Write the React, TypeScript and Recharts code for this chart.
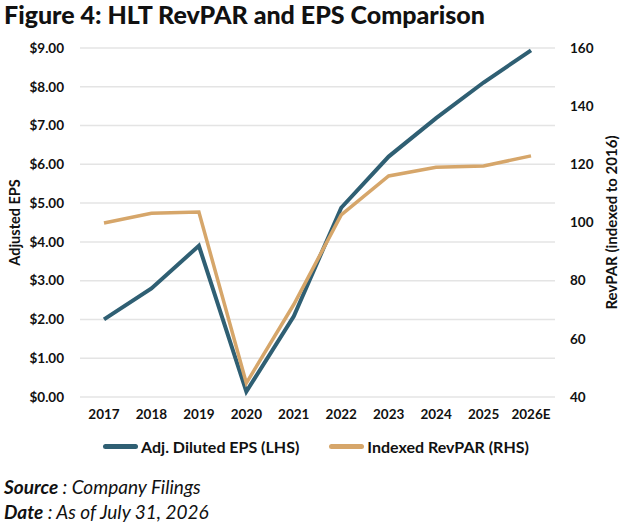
import React from 'react';
import { LineChart, Line, XAxis, YAxis, CartesianGrid } from 'recharts';

const years = ['2017', '2018', '2019', '2020', '2021', '2022', '2023', '2024', '2025', '2026E'];
const epsValues = [2.0, 2.8, 3.9, 0.14, 2.08, 4.88, 6.2, 7.19, 8.11, 8.94];
const revparValues = [99.8, 103.2, 103.6, 44.8, 71.8, 102.6, 116, 119, 119.4, 122.9];
const epsTicks = [0, 1, 2, 3, 4, 5, 6, 7, 8, 9];
const revparTicks = [40, 60, 80, 100, 120, 140, 160];

const EPS_COLOR = '#2f5f73';
const REV_COLOR = '#d6a66a';
const FONT = 'Lato, "Open Sans", sans-serif';

const data = years.map((year, i) => ({ year, eps: epsValues[i], revpar: revparValues[i] }));

const series = [
    { key: 'eps', name: 'Adj. Diluted EPS (LHS)', color: EPS_COLOR },
    { key: 'revpar', name: 'Indexed RevPAR (RHS)', color: REV_COLOR },
];

const tickStyle = { fill: '#111', fontSize: 13.5, fontWeight: 700, fontFamily: FONT };

export default function App() {
    return (
        <div style={{ position: 'absolute', left: 0, top: 0, width: 624, height: 526, background: '#fff', fontFamily: FONT }}>
            <div style={{ position: 'absolute', left: 4, top: -1, fontSize: 25, fontWeight: 900, color: '#111', whiteSpace: 'nowrap' }}>
                Figure 4: HLT RevPAR and EPS Comparison
            </div>
            <LineChart width={624} height={430} data={data} margin={{ top: 48, right: 0, left: 0, bottom: 3 }}>
                <CartesianGrid yAxisId="eps" vertical={false} stroke="#e4e4e4" strokeWidth={1.5} />
                <XAxis
                    dataKey="year"
                    axisLine={false}
                    tickLine={false}
                    tickSize={0}
                    tickMargin={12}
                    height={30}
                    padding={{ left: 24, right: 24 }}
                    tick={tickStyle}
                    interval={0}
                />
                <YAxis
                    yAxisId="eps"
                    width={80}
                    domain={[0, 9]}
                    ticks={epsTicks}
                    axisLine={false}
                    tickLine={false}
                    tickSize={0}
                    tickMargin={16}
                    tick={tickStyle}
                    tickFormatter={(v: number) => `$${v.toFixed(2)}`}
                    label={{ value: 'Adjusted EPS', angle: -90, position: 'insideLeft', offset: 15, style: { fill: '#111', fontSize: 14.5, fontWeight: 700, fontFamily: FONT, textAnchor: 'middle' } }}
                />
                <YAxis
                    yAxisId="rev"
                    orientation="right"
                    width={69}
                    domain={[40, 160]}
                    ticks={revparTicks}
                    axisLine={false}
                    tickLine={false}
                    tickSize={0}
                    tickMargin={15}
                    tick={tickStyle}
                    label={{ value: 'RevPAR (indexed to 2016)', angle: -90, position: 'insideRight', offset: 12, style: { fill: '#111', fontSize: 15, fontWeight: 700, fontFamily: FONT, textAnchor: 'middle' } }}
                />
                <Line yAxisId="eps" type="linear" dataKey="eps" stroke={EPS_COLOR} strokeWidth={4} dot={false} isAnimationActive={false} />
                <Line yAxisId="rev" type="linear" dataKey="revpar" stroke={REV_COLOR} strokeWidth={3.5} dot={false} isAnimationActive={false} />
            </LineChart>
            <div style={{ position: 'absolute', top: 437, left: 0, width: 624, display: 'flex', justifyContent: 'center', gap: 30, paddingLeft: 4 }}>
                {series.map((s) => (
                    <div key={s.key} style={{ display: 'flex', alignItems: 'center', fontSize: 16, fontWeight: 700, color: '#111' }}>
                        <span style={{ display: 'inline-block', width: 35, height: 5, borderRadius: 3, background: s.color, marginRight: 3 }} />
                        {s.name}
                    </div>
                ))}
            </div>
            <div style={{ position: 'absolute', left: 4, top: 474, fontSize: 19, fontStyle: 'italic', color: '#111', lineHeight: '25px' }}>
                <div><b>Source</b> : Company Filings</div>
                <div><b>Date</b> : As of July 31, 2026</div>
            </div>
        </div>
    );
}
